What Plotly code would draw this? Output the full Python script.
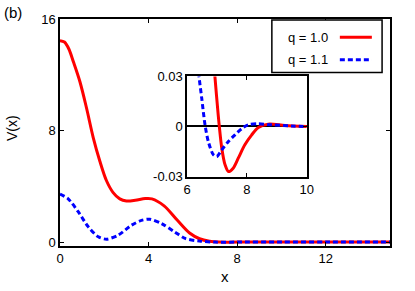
import plotly.graph_objects as go

# ---- data ----
x_red = [0, 0.2, 0.4, 0.6, 0.9, 1.2, 1.5, 1.8, 2.1, 2.4, 2.7, 3.0, 3.4, 3.85, 4.15, 4.7, 5.3, 5.85, 6.3, 6.75, 7.2, 8, 10, 12, 14.9]
v_red = [14.45, 14.35, 13.85, 12.95, 11.5, 9.6, 7.5, 5.8, 4.4, 3.55, 3.1, 2.95, 3.0, 3.12, 3.1, 2.6, 1.56, 0.65, 0.24, 0.06, 0.0, 0, 0, 0, 0]

x_blue = [0, 0.37, 0.83, 1.28, 1.73, 2.1, 2.63, 3.23, 3.68, 4.05, 4.58, 5.18, 5.65, 6.3, 7.0, 8, 10, 12, 14.9]
v_blue = [3.45, 3.1, 2.16, 1.09, 0.38, 0.21, 0.5, 1.21, 1.56, 1.64, 1.33, 0.73, 0.26, 0.07, 0.0, 0, 0, 0, 0]

xi_red = [6.85, 6.93, 7.04, 7.16, 7.27, 7.38, 7.54, 7.71, 7.93, 8.16, 8.38, 8.71, 9.27, 10.0]
vi_red = [0.047, 0.03, 0.007, -0.013, -0.023, -0.027, -0.025, -0.019, -0.011, -0.005, -0.0006, 0.0014, 0.0006, 0.0]

xi_blue = [6.35, 6.4, 6.49, 6.6, 6.71, 6.88, 6.99, 7.16, 7.38, 7.6, 7.82, 8.04, 8.38, 8.82, 9.49, 10.0]
vi_blue = [0.042, 0.03, 0.017, 0.001, -0.009, -0.017, -0.018, -0.014, -0.009, -0.005, -0.0014, 0.001, 0.0016, 0.001, 0.0003, 0.0]

labels = ["q = 1.0", "q = 1.1"]
main_xticks = [0, 4, 8, 12]
main_yticks = [0, 8, 16]
inset_xticks = [6, 8, 10]
inset_yticks = [-0.03, 0, 0.03]
inset_yticktext = ["-0.03", "0", "0.03"]

RED = "#ff0000"
BLUE = "#0000ff"
FONT = "Liberation Sans, Arial, sans-serif"

fig = go.Figure()
fig.add_trace(go.Scatter(x=x_red, y=v_red, mode="lines", line=dict(color=RED, width=3, shape="spline", smoothing=0.9),
                         xaxis="x", yaxis="y", showlegend=False))
fig.add_trace(go.Scatter(x=x_blue, y=v_blue, mode="lines", line=dict(color=BLUE, width=3, dash="5px,3px", shape="spline", smoothing=0.8),
                         xaxis="x", yaxis="y", showlegend=False))
fig.add_trace(go.Scatter(x=xi_red, y=vi_red, mode="lines", line=dict(color=RED, width=3, shape="spline", smoothing=0.8),
                         xaxis="x2", yaxis="y2", showlegend=False))
fig.add_trace(go.Scatter(x=xi_blue, y=vi_blue, mode="lines", line=dict(color=BLUE, width=3, dash="5px,3px", shape="spline", smoothing=0.8),
                         xaxis="x2", yaxis="y2", showlegend=False))

axis_common = dict(showline=True, linecolor="black", linewidth=1.5, mirror="ticks", ticks="inside",
                   ticklen=4, tickcolor="black", showgrid=False,
                   tickfont=dict(family=FONT, size=13, color="black"))

fig.update_layout(
    width=415, height=291,
    margin=dict(l=60, r=25, t=17, b=45),
    paper_bgcolor="white", plot_bgcolor="white",
    font=dict(family=FONT, size=13, color="black"),
    xaxis=dict(range=[0, 14.9], tickvals=main_xticks, domain=[0, 1], zeroline=False, **axis_common),
    yaxis=dict(range=[-0.28, 16.0], tickvals=main_yticks, domain=[0, 1], zeroline=False, **axis_common),
    xaxis2=dict(range=[6, 10], tickvals=inset_xticks, domain=[0.385, 0.748], anchor="y2", zeroline=False, **axis_common),
    yaxis2=dict(range=[-0.03, 0.03], tickvals=inset_yticks, ticktext=inset_yticktext, domain=[0.306, 0.747], anchor="x2",
                zeroline=True, zerolinecolor="black", zerolinewidth=2, **axis_common),
)

# inset background so main curves don't show through
fig.add_shape(type="rect", xref="paper", yref="paper", x0=0.385, x1=0.748, y0=0.306, y1=0.747,
              fillcolor="white", line=dict(width=0), layer="below")

# custom legend (text left, sample right)
fig.add_shape(type="rect", xref="paper", yref="paper", x0=0.642, x1=0.976, y0=0.764, y1=0.996,
              fillcolor="white", line=dict(color="black", width=1.5))
leg_y = [0.92, 0.82]
leg_col = [RED, BLUE]
leg_dash = ["solid", "5px,3px"]
for lab, yy, c, d in zip(labels, leg_y, leg_col, leg_dash):
    fig.add_annotation(x=0.818, y=yy, xref="paper", yref="paper", text=lab, showarrow=False,
                       xanchor="right", yanchor="middle", font=dict(family=FONT, size=13))
    fig.add_shape(type="line", xref="paper", yref="paper", x0=0.848, x1=0.945, y0=yy, y1=yy,
                  line=dict(color=c, width=3, dash=d))

fig.add_annotation(x=-0.175, y=1.03, xref="paper", yref="paper", text="(b)", showarrow=False,
                   xanchor="left", yanchor="middle", font=dict(size=15))
fig.add_annotation(x=-0.145, y=0.52, xref="paper", yref="paper", text="V(x)", textangle=-90, showarrow=False,
                   xanchor="center", yanchor="middle", font=dict(size=14))
fig.add_annotation(x=0.5, y=-0.135, xref="paper", yref="paper", text="x", showarrow=False,
                   xanchor="center", yanchor="middle", font=dict(size=15))

fig.write_html("out.html", config={"displayModeBar": False},
               post_script="document.body.style.margin='0';document.body.style.overflow='hidden';")
